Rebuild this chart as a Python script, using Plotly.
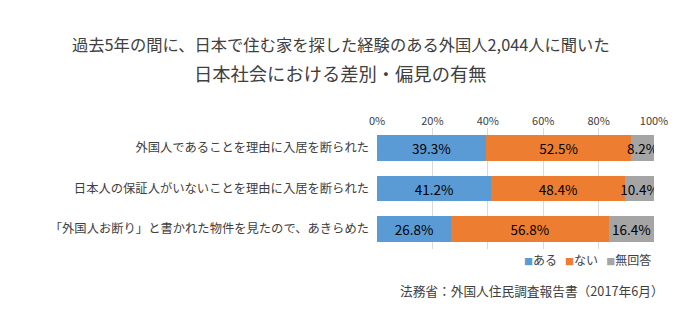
import plotly.graph_objects as go

categories = [
    "外国人であることを理由に入居を断られた",
    "日本人の保証人がいないことを理由に入居を断られた",
    "「外国人お断り」と書かれた物件を見たので、あきらめた",
]
aru = [39.3, 41.2, 26.8]
nai = [52.5, 48.4, 56.8]
mukaito = [8.2, 10.4, 16.4]
series_names = ["ある", "ない", "無回答"]
colors = ["#5B9BD5", "#ED7D31", "#A5A5A5"]
ticks = [0, 20, 40, 60, 80, 100]

FONT = "Noto Sans CJK JP"
fig = go.Figure()
for name, vals, c in zip(series_names, [aru, nai, mukaito], colors):
    fig.add_trace(go.Bar(
        y=categories, x=vals, name=name, orientation="h",
        marker=dict(color=c, line=dict(width=0)),
        width=0.64,
        text=[f"{v:.1f}%" for v in vals],
        textposition="inside", insidetextanchor="middle", textangle=0,
        textfont=dict(color="#000000", size=13.5, family=FONT),
        hoverinfo="skip", showlegend=False,
    ))

plot_w = 680 - 377 - 22
plot_h = 323 - 128 - 74
cx = (340 - 377) / plot_w

legend_text = "&nbsp;&nbsp;&nbsp;".join(
    f"<span style='color:{c};font-size:9px'>■</span>{n}" for n, c in zip(series_names, colors)
)

fig.update_layout(
    barmode="stack",
    width=680, height=323,
    margin=dict(l=377, r=22, t=128, b=74),
    paper_bgcolor="white", plot_bgcolor="white",
    font=dict(family=FONT, color="#404040", size=12),
    uniformtext=dict(minsize=13.5, mode="show"),
    showlegend=False,
    xaxis=dict(range=[0, 100], side="top", tickvals=ticks,
               ticktext=[f"{t}%" for t in ticks],
               showgrid=True, gridcolor="#D9D9D9", gridwidth=1,
               zeroline=False, showline=False, ticks="",
               tickfont=dict(size=11, color="#404040")),
    yaxis=dict(autorange="reversed", showgrid=False, zeroline=False,
               showline=False, ticks="", ticklabelstandoff=7,
               tickfont=dict(size=12.3, color="#404040")),
    annotations=[
        dict(text="過去5年の間に、日本で住む家を探した経験のある外国人2,044人に聞いた",
             xref="paper", yref="paper", x=cx, xanchor="center",
             y=1 + (128 - 44) / plot_h, yanchor="middle", showarrow=False,
             font=dict(size=16.3, color="#404040")),
        dict(text="日本社会における差別・偏見の有無", xref="paper", yref="paper",
             x=cx, xanchor="center", y=1 + (128 - 73) / plot_h, yanchor="middle",
             showarrow=False, font=dict(size=18.3, color="#404040")),
        dict(text=legend_text, xref="paper", yref="paper",
             x=(657 - 377) / plot_w, xanchor="right", y=-(259 - 249) / plot_h,
             yanchor="middle", showarrow=False, font=dict(size=12, color="#404040")),
        dict(text="法務省：外国人住民調査報告書（2017年6月）", xref="paper", yref="paper",
             x=(670 - 377) / plot_w, xanchor="right", y=-(290 - 249) / plot_h,
             yanchor="middle", showarrow=False, font=dict(size=12.7, color="#404040")),
    ],
)

fig.write_html("out.html")
